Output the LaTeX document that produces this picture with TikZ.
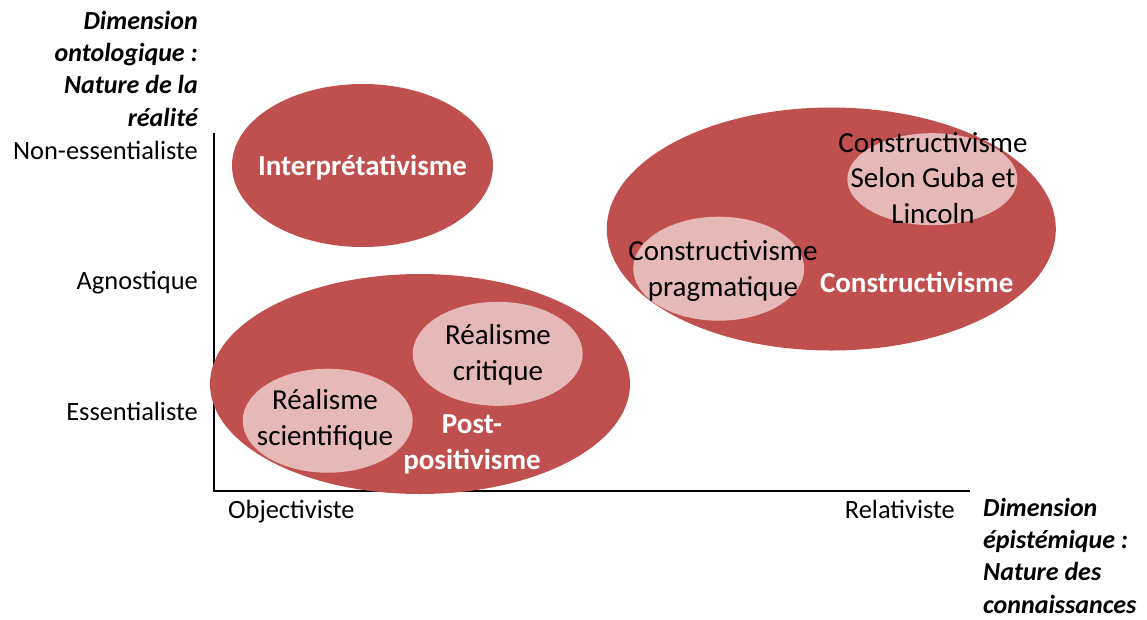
\documentclass[tikz,border=0pt]{standalone}
\usepackage{fontspec}
\setmainfont{Carlito}
\usetikzlibrary{shapes.geometric}
\definecolor{darkred}{HTML}{C0504D}
\definecolor{lightred}{HTML}{E6B9B8}
\begin{document}
\begin{tikzpicture}[x=1pt,y=-1pt,
  bigell/.style={ellipse, fill=darkred, draw=none, inner sep=0pt},
  smallell/.style={ellipse, fill=lightred, draw=none, inner sep=0pt},
  axislbl/.style={font=\fontsize{26.4}{32}\selectfont, inner sep=0pt},
  innertxt/.style={font=\fontsize{29}{35.5}\selectfont, align=center, inner sep=0pt},
  whitelbl/.style={font=\fontsize{29}{36}\selectfont\bfseries, text=white, align=center, inner sep=0pt},
  header/.style={font=\fontsize{26}{32.2}\selectfont\bfseries\itshape, inner sep=0pt},
  axisline/.style={line width=2pt, draw=black}]
\useasboundingbox (0,0) rectangle (1147,619);
% axes
\coordinate (ytop) at (214,133);
\coordinate (orig) at (214,491);
\coordinate (xend) at (970,491);
\draw[axisline] (ytop) -- (orig) -- (xend);
% big ellipses
\node[bigell, minimum width=261pt, minimum height=163pt] (interp) at (362.5,165.5) {};
\node[bigell, minimum width=420pt, minimum height=220pt] (postpos) at (420,384) {};
\node[bigell, minimum width=449pt, minimum height=243pt] (constr) at (831.3,229) {};
% small ellipses
\node[smallell, minimum width=170pt, minimum height=104pt] (rcrit) at (497.7,353.8) {};
\node[smallell, minimum width=170pt, minimum height=104pt] (rsci) at (327.7,420.7) {};
\node[smallell, minimum width=171pt, minimum height=104pt] (cprag) at (718.7,268.7) {};
\node[smallell, minimum width=170pt, minimum height=92pt] (cguba) at (932.3,179.2) {};
% inner texts (base anchor = baseline of last line)
\node[whitelbl, anchor=base] (tinterp) at (362.5,175) {Interprétativisme};
\node[whitelbl, anchor=base] (tpost) at (472,469) {Post-\\positivisme};
\node[whitelbl, anchor=base] (tconstr) at (916.7,292) {Constructivisme};
\node[innertxt, anchor=base] (trcrit) at (498,380) {Réalisme\\critique};
\node[innertxt, anchor=base] (trsci) at (325,445) {Réalisme\\scientifique};
\node[innertxt, anchor=base] (tcprag) at (723,296) {Constructivisme\\pragmatique};
\node[innertxt, anchor=base] (tcguba) at (933,223) {Constructivisme\\Selon Guba et\\Lincoln};
% axis labels
\node[axislbl, anchor=base east] (lnon) at (198,159) {Non-essentialiste};
\node[axislbl, anchor=base east] (lagn) at (198,289) {Agnostique};
\node[axislbl, anchor=base east] (less) at (198,420) {Essentialiste};
\node[axislbl, anchor=base west] (lobj) at (228,518) {Objectiviste};
\node[axislbl, anchor=base east] (lrel) at (955,518) {Relativiste};
% headers
\node[header, align=right, anchor=base east] (honto) at (198,126) {Dimension\\ontologique :\\Nature de la\\réalité};
\node[header, align=left, anchor=base west] (hepis) at (983,613) {Dimension\\épistémique :\\Nature des\\connaissances};
\end{tikzpicture}
\end{document}
